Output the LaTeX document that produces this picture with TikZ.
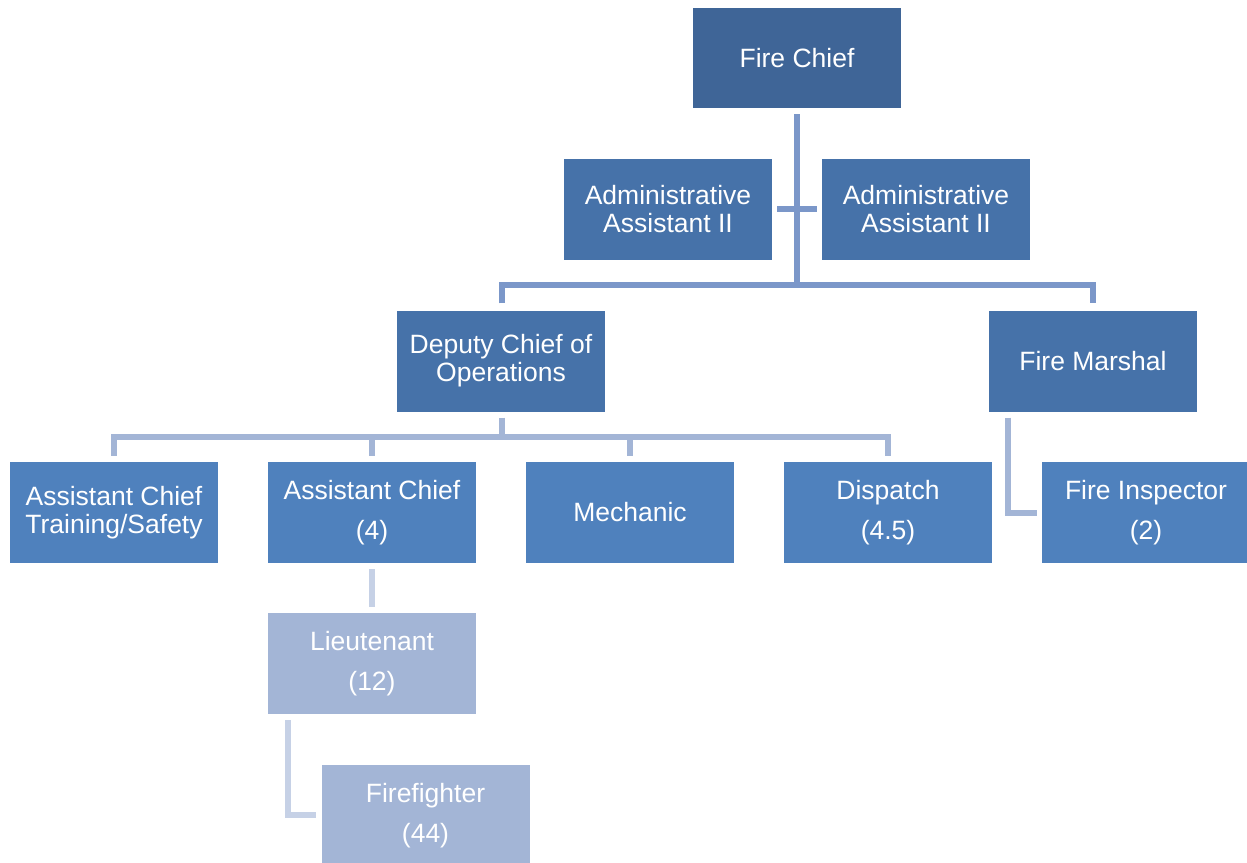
\documentclass[tikz,border=0pt]{standalone}
\usepackage{fontspec}
\setmainfont{Liberation Sans}
\definecolor{chiefblue}{HTML}{3F6597}
\definecolor{midblue}{HTML}{4672A9}
\definecolor{stdblue}{HTML}{4F81BD}
\definecolor{paleblue}{HTML}{A3B5D6}
\definecolor{linedark}{HTML}{7B97C9}
\definecolor{linemid}{HTML}{A3B5D6}
\definecolor{linelight}{HTML}{C6D1E6}
\tikzset{
  box/.style={rectangle, minimum width=208pt, minimum height=101pt, inner sep=0pt,
    text=white, align=center, font=\fontsize{26.5}{28}\selectfont},
  lvlA/.style={box, fill=chiefblue},
  lvlB/.style={box, fill=midblue},
  lvlC/.style={box, fill=stdblue},
  lvlD/.style={box, fill=paleblue},
  wire/.style={line width=6pt, line cap=butt, line join=miter},
  wireA/.style={wire, draw=linedark},
  wireB/.style={wire, draw=linemid},
  wireC/.style={wire, draw=linelight},
}
\begin{document}
\begin{tikzpicture}[x=1pt,y=1pt]
\clip (0,0) rectangle (1247,-862);
\fill[white] (0,0) rectangle (1247,-862);

% boxes
\node[lvlA, minimum height=100pt] (chief) at (797,-58) {Fire Chief};
\node[lvlB] (adminL) at (668,-209) {Administrative\\Assistant II};
\node[lvlB] (adminR) at (926,-209) {Administrative\\Assistant II};
\node[lvlB] (deputy) at (501,-361) {Deputy Chief of\\Operations};
\node[lvlB] (marshal) at (1093,-361) {Fire Marshal};
\node[lvlC] (trainer) at (114,-512.5) {Assistant Chief\\Training/Safety};
\node[lvlC] (asst) at (372,-512.5) {Assistant Chief\\[12pt](4)};
\node[lvlC] (mech) at (630,-512.5) {Mechanic};
\node[lvlC] (dispatch) at (888,-512.5) {Dispatch\\[12pt](4.5)};
\node[lvlC] (inspector) at (1146,-512.5) {Fire Inspector\\[12pt](2)};
\node[lvlD] (lieut) at (372,-663.5) {Lieutenant\\[12pt](12)};
\node[lvlD] (fighter) at (425.5,-815.5) {Firefighter\\[12pt](44)};

% connectors from the chief
\coordinate (busA) at (797,-285);
\draw[wireA] ([yshift=-6]chief.south) -- (busA);
\draw[wireA] ([xshift=5]adminL.east) -- ([xshift=-5]adminR.west);
\draw[wireA] ([xshift=1,yshift=7]deputy.north) |- (busA) -| ([yshift=7]marshal.north);

% connectors from the deputy chief
\coordinate (busB) at (501,-437);
\draw[wireB] ([xshift=1,yshift=-6]deputy.south) -- ([xshift=1]deputy.south |- busB);
\draw[wireB] ([yshift=6]trainer.north) |- (busB) -| ([yshift=6]dispatch.north);
\draw[wireB] ([yshift=6]asst.north) -- (asst.north |- busB);
\draw[wireB] ([yshift=6]mech.north) -- (mech.north |- busB);

% fire marshal to inspector
\draw[wireB] ([xshift=19,yshift=-6]marshal.south west) |- ([xshift=-5]inspector.west);

% assistant chief to lieutenant to firefighter
\draw[wireC] ([yshift=-6]asst.south) -- ([yshift=6]lieut.north);
\draw[wireC] ([xshift=20,yshift=-6]lieut.south west) |- ([xshift=-5,yshift=0.5]fighter.west);
\end{tikzpicture}
\end{document}
